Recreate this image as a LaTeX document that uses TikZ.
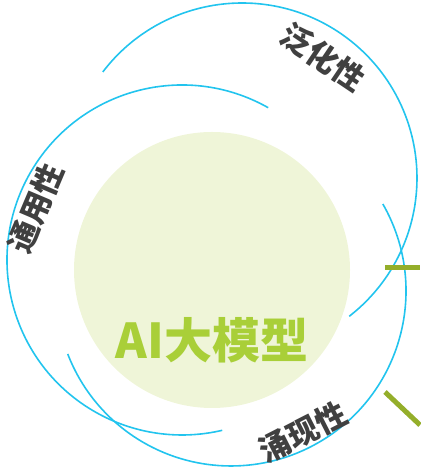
\documentclass[tikz,border=0pt]{standalone}
\usepackage{fontspec}
\newfontfamily\cjk{Noto Sans CJK SC}
\definecolor{arcblue}{HTML}{22C4EE}
\definecolor{coregreen}{HTML}{EFF5D8}
\definecolor{titlegreen}{HTML}{A9CF38}
\definecolor{linegreen}{HTML}{94AE2A}
\definecolor{labelgray}{HTML}{404040}
\tikzset{
  ring/.style={draw=arcblue, line width=1.6pt},
  lbl/.style={text=labelgray, inner sep=0pt, font=\cjk\bfseries\fontsize{31}{31}\selectfont},
  title/.style={text=titlegreen, inner sep=0pt, font=\cjk\bfseries\fontsize{48}{48}\selectfont},
  tick/.style={draw=linegreen, line width=5pt}
}
\begin{document}
\begin{tikzpicture}[x=1pt,y=1pt]
\useasboundingbox (0,0) rectangle (420,473);
% centres
\coordinate (cA) at (182,213);
\coordinate (cB) at (242,295);
\coordinate (cC) at (231,182);
% core
\node[circle, fill=coregreen, minimum size=276pt, inner sep=0pt] (core) at (212,203) {};
% rings
\draw[ring] ([shift={(60.5:175)}]cA) arc[start angle=60.5, end angle=283.3, radius=175];
\draw[ring] ([shift={(142.7:175)}]cB) arc[start angle=142.7, end angle=-52.2, radius=175];
\draw[ring] ([shift={(29.8:175)}]cC) arc[start angle=29.8, end angle=-158.9, radius=175];
% labels
\node[lbl, rotate=-34] (fan) at (323,416) {泛化性};
\node[lbl, rotate=67] (tong) at (36,265) {通用性};
\node[lbl, rotate=27] (yong) at (303,41) {涌现性};
\node[title] (ai) at (212,133) {AI大模型};
% green ticks
\coordinate (h1) at (385,205);
\coordinate (h2) at (420,205);
\coordinate (d1) at (385,81);
\coordinate (d2) at (420,48);
\draw[tick] (h1) -- (h2);
\draw[tick] (d1) -- (d2);
\end{tikzpicture}
\end{document}
